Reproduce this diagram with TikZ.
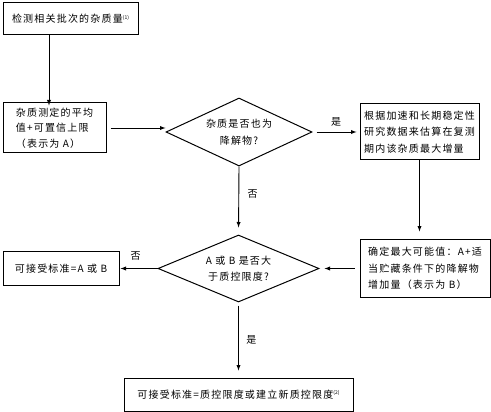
\documentclass[tikz,border=0pt]{standalone}
\usepackage{fontspec}
\setmainfont[LetterSpace=12]{Noto Sans CJK SC}
\newfontfamily\supfont{Noto Sans CJK SC}
\usetikzlibrary{arrows,positioning,shapes.geometric}
\tikzstyle{arrow} = [line width=0.9pt,->,>=latex]
\tikzstyle{box} = [draw,line width=1pt,inner sep=4pt,align=left]
\tikzstyle{decision} = [draw,line width=1pt,diamond,aspect=2.4,inner sep=0pt,align=center]
\newcommand{\note}[1]{\raisebox{3.5pt}{\supfont\fontsize{5}{5}\selectfont(#1)}}

\begin{document}
\begin{tikzpicture}[x=1pt,y=-1pt,font=\fontsize{10}{16.5}\selectfont]
	\useasboundingbox (0,0) rectangle (491,412);

	\node[box,minimum width=135pt,minimum height=32pt](check) at (70.5,19) {检测相关批次的杂质量\note{1}};
	\node[box,below right=67pt and 0pt of check.south west,minimum width=103pt,minimum height=50pt,font=\fontsize{10}{15.5}\selectfont](meanA) {杂质测定的平均\\值+可置信上限\\（表示为 A）};
	\node[decision,right=59pt of meanA,yshift=-4pt,minimum width=146pt,minimum height=68pt](degrad) {杂质是否也为\\降解物?};
	\node[box,right=47pt of degrad,minimum width=119pt,minimum height=56pt](estim) {根据加速和长期稳定性\\研究数据来估算在复测\\期内该杂质最大增量};
	\node[box,below right=79pt and 0pt of estim.south west,minimum width=130pt,minimum height=57pt](maxB) {确定最大可能值：A+适\\当贮藏条件下的降解物\\增加量（表示为 B）};
	\node[decision,left=40pt of maxB,minimum width=161pt,minimum height=67pt](limit) {A 或 B 是否大\\于质控限度?};
	\node[box,left=38pt of limit,minimum width=116pt,minimum height=34pt](acceptAB) {可接受标准=A 或 B};
	\node[box,below=75pt of limit,minimum width=229pt,minimum height=33pt](acceptQC) {可接受标准=质控限度或建立新质控限度\note{2}};

	\draw[arrow] ([xshift=-21.5pt]check.south) -- ([xshift=-21.5pt,yshift=-3pt]check.south |- meanA.north);
	\draw[arrow,shorten <=4pt] (meanA.east) -- (meanA.east -| degrad.west);
	\draw[arrow,shorten <=4pt,shorten >=3pt] (degrad.east) -- node[above=2pt]{是} (degrad.east -| estim.west);
	\draw[arrow,shorten >=8pt] (estim.south) -- (estim.south |- maxB.north);
	\draw[arrow,shorten >=7pt] (degrad.south) -- node[right=5pt,pos=0.4]{否} (limit.north);
	\draw[arrow,shorten <=5pt,shorten >=5pt] (maxB.west) -- (limit.east);
	\draw[arrow,shorten >=1pt] (limit.west) -- node[above=4pt,xshift=-3pt]{否} (acceptAB.east);
	\draw[arrow,shorten <=3pt,shorten >=7pt] (limit.south) -- node[right=4pt]{是} (acceptQC.north);

\end{tikzpicture}
\end{document}
